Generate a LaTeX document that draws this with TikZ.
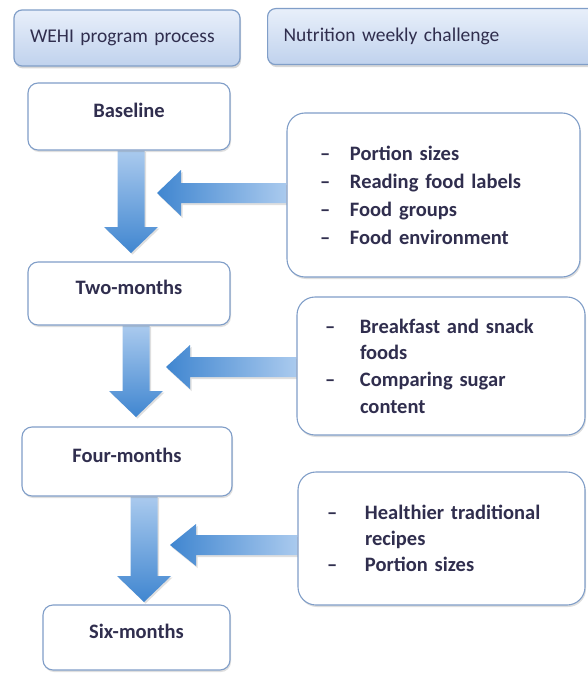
\documentclass[tikz,border=0pt]{standalone}
\usepackage{fontspec}
\setmainfont{Carlito}
\usetikzlibrary{
  calc,
  shadows,
  backgrounds
}
\definecolor{labelcolor}{RGB}{48, 46, 78}
\definecolor{bordercolor}{RGB}{128, 158, 200}
\definecolor{headtopcolor}{RGB}{232, 239, 250}
\definecolor{headbottomcolor}{RGB}{192, 210, 237}
\definecolor{arrowlight}{RGB}{170, 202, 238}
\definecolor{arrowdark}{RGB}{64, 134, 208}
\tikzset{
headbox/.style={
  draw=bordercolor,
  line width=1.2pt,
  rounded corners=8pt,
  top color=headtopcolor,
  bottom color=headbottomcolor,
  minimum height=56pt,
  inner xsep=16pt,
  align=left,
  font=\fontsize{19.5}{24}\selectfont,
  text=labelcolor,
  drop shadow={shadow xshift=1pt, shadow yshift=-2.5pt, opacity=0.3}
},
stagebox/.style={
  draw=bordercolor,
  line width=1.1pt,
  rounded corners=10pt,
  fill=white,
  text height=14pt,
  text depth=12pt,
  font=\bfseries\fontsize{20.5}{25}\selectfont,
  text=labelcolor,
  drop shadow={shadow xshift=1pt, shadow yshift=-2pt, opacity=0.25}
},
topicbox/.style={
  draw=bordercolor,
  line width=1.1pt,
  rounded corners=18pt,
  fill=white,
  inner sep=0pt,
  align=left,
  text=labelcolor,
  drop shadow={shadow xshift=1pt, shadow yshift=-2pt, opacity=0.25}
},
downshade/.style={
  top color=arrowlight,
  bottom color=arrowdark,
  drop shadow={shadow xshift=1.5pt, shadow yshift=-1.5pt, opacity=0.25}
},
leftshade/.style={
  left color=arrowdark,
  right color=arrowlight,
  drop shadow={shadow xshift=1.5pt, shadow yshift=-2pt, opacity=0.25}
}
}

\begin{document}
\begin{tikzpicture}[x=1pt, y=-1pt]

\useasboundingbox (0, 0) rectangle (587, 674);
\begin{scope}[on background layer]
  \fill[white] (0, 0) rectangle (587, 674);
\end{scope}

% ============================================================================
% COLUMN HEADERS
% ============================================================================
\node[headbox, text width=194pt] (wehi_head) at (127, 38) {WEHI program process};
\node[headbox, anchor=north west, text width=308pt] (nutri_head) at (267, 8) {Nutrition weekly challenge};

% ============================================================================
% PROGRAM STAGES (left)
% ============================================================================
\node[stagebox, minimum width=202pt, minimum height=67pt] (stage_base) at (129, 116.5) {Baseline};
\node[stagebox, minimum width=202pt, minimum height=63pt] (stage_two) at (129, 293.5) {Two-months};
\node[stagebox, minimum width=210pt, minimum height=69pt] (stage_four) at (127, 461.5) {Four-months};
\node[stagebox, minimum width=187pt, minimum height=65pt] (stage_six) at (136.5, 637.5) {Six-months};

% ============================================================================
% WEEKLY CHALLENGES (right)
% ============================================================================
\node[topicbox, minimum width=293pt, minimum height=164pt, text width=227pt,
      font=\bfseries\fontsize{20.5}{28}\selectfont] (topic_one) at (433.5, 195) {%
  \makebox[30pt][l]{\textendash}Portion sizes\\
  \makebox[30pt][l]{\textendash}Reading food labels\\
  \makebox[30pt][l]{\textendash}Food groups\\
  \makebox[30pt][l]{\textendash}Food environment};

\node[topicbox, minimum width=288pt, minimum height=138pt, text width=232pt,
      font=\bfseries\fontsize{20.5}{26.7}\selectfont] (topic_two) at (441, 366) {%
  \makebox[35pt][l]{\textendash}Breakfast and snack\\
  \hspace*{35pt}foods\\
  \makebox[35pt][l]{\textendash}Comparing sugar\\
  \hspace*{35pt}content};

\node[topicbox, minimum width=287pt, minimum height=133pt, text width=229pt,
      font=\bfseries\fontsize{20.5}{26}\selectfont] (topic_three) at (441.5, 538.5) {%
  \makebox[38pt][l]{\textendash}Healthier traditional\\
  \hspace*{38pt}recipes\\
  \makebox[38pt][l]{\textendash}Portion sizes};

% ============================================================================
% BLOCK ARROWS
% ============================================================================
\coordinate (down_one) at (131, 253);
\coordinate (down_two) at (136, 417);
\coordinate (down_three) at (144, 602);
\coordinate (left_one) at (157, 193);
\coordinate (left_two) at (166, 367);
\coordinate (left_three) at (170, 545);

\begin{scope}[on background layer]
% stage to stage
\shade[downshade] ($(stage_base.south -| down_one)+(-13.5,0)$) -- ($(down_one)+(-13.5,-26)$)
    -- ($(down_one)+(-27,-26)$) -- (down_one) -- ($(down_one)+(27,-26)$)
    -- ($(down_one)+(13.5,-26)$) -- ($(stage_base.south -| down_one)+(13.5,0)$) -- cycle;
\shade[downshade] ($(stage_two.south -| down_two)+(-13.5,0)$) -- ($(down_two)+(-13.5,-26)$)
    -- ($(down_two)+(-27,-26)$) -- (down_two) -- ($(down_two)+(27,-26)$)
    -- ($(down_two)+(13.5,-26)$) -- ($(stage_two.south -| down_two)+(13.5,0)$) -- cycle;
\shade[downshade] ($(stage_four.south -| down_three)+(-13.5,0)$) -- ($(down_three)+(-13.5,-26)$)
    -- ($(down_three)+(-27,-26)$) -- (down_three) -- ($(down_three)+(27,-26)$)
    -- ($(down_three)+(13.5,-26)$) -- ($(stage_four.south -| down_three)+(13.5,0)$) -- cycle;

% challenge to program
\shade[leftshade] ($(topic_one.west |- left_one)+(0,-10)$) -- ($(left_one)+(24,-10)$)
    -- ($(left_one)+(24,-23)$) -- (left_one) -- ($(left_one)+(24,23)$)
    -- ($(left_one)+(24,10)$) -- ($(topic_one.west |- left_one)+(0,10)$) -- cycle;
\shade[leftshade] ($(topic_two.west |- left_two)+(0,-10)$) -- ($(left_two)+(24,-10)$)
    -- ($(left_two)+(24,-22)$) -- (left_two) -- ($(left_two)+(24,22)$)
    -- ($(left_two)+(24,10)$) -- ($(topic_two.west |- left_two)+(0,10)$) -- cycle;
\shade[leftshade] ($(topic_three.west |- left_three)+(0,-10)$) -- ($(left_three)+(26,-10)$)
    -- ($(left_three)+(26,-21)$) -- (left_three) -- ($(left_three)+(26,21)$)
    -- ($(left_three)+(26,10)$) -- ($(topic_three.west |- left_three)+(0,10)$) -- cycle;
\end{scope}

\end{tikzpicture}
\end{document}
